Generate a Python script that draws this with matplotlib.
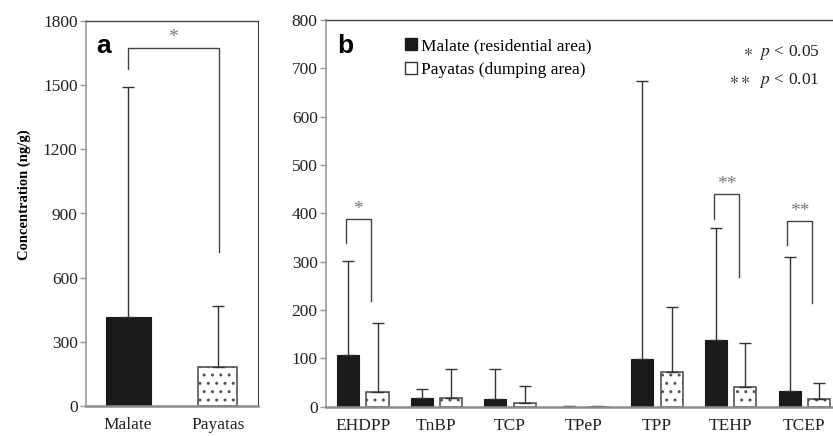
import matplotlib.pyplot as plt
from matplotlib.patches import Patch

plt.rcParams['font.family'] = ['Liberation Serif', 'DejaVu Serif']
plt.rcParams['mathtext.fontset'] = 'stix'
plt.rcParams['hatch.linewidth'] = 1.0

# panel a: total concentration
sites = ["Malate", "Payatas"]
total_mean = [417, 184]
total_upper = [1490, 469]
# (left leg end, top, right leg end)
total_bracket = (1574, 1674, 718)

# panel b: individual compounds
compounds = ["EHDPP", "TnBP", "TCP", "TPeP", "TPP", "TEHP", "TCEP"]
malate_mean = [107, 18, 16, 0.3, 98, 139, 32]
malate_upper = [302, 36, 79, 1, 673, 370, 309]
payatas_mean = [31, 18, 7, 0.3, 71, 41, 16]
payatas_upper = [173, 77, 43, 2, 207, 132, 48]

# significance brackets: compound index, left leg end, top, right leg end, label
sig_idx = [0, 5, 6]
sig_left = [339, 389, 334]
sig_top = [389, 440, 385]
sig_right = [218, 268, 214]
sig_label = ["*", "**", "**"]

black = "#1a1a1a"
edge_gray = "#555555"
spine_gray = "#999999"

fig = plt.figure(figsize=(8.33, 4.36), dpi=100)
ax_a = fig.add_axes([86 / 833, 30 / 436, 172 / 833, 385 / 436])
ax_b = fig.add_axes([326 / 833, 29.3 / 436, 507 / 833, 386.7 / 436])


def style_axis(ax):
    ax.spines['left'].set_color(spine_gray)
    ax.spines['left'].set_linewidth(1.2)
    ax.spines['bottom'].set_color("#8c8c8c")
    ax.spines['bottom'].set_linewidth(1.8)
    ax.spines['top'].set_color("#444444")
    ax.spines['top'].set_linewidth(1.0)
    ax.tick_params(axis='y', direction='out', length=4, width=1, color=spine_gray,
                   labelsize=12.5, labelcolor="#222222", pad=2)
    ax.tick_params(axis='x', length=0, labelsize=12.5, labelcolor="#222222", pad=8)


# ---- panel a ----
xa = list(range(len(sites)))
err_a = [[0, 0], [u - m for u, m in zip(total_upper, total_mean)]]
ax_a.bar(xa[0], total_mean[0], width=0.5, color=black, edgecolor=black, lw=0.8)
ax_a.bar(xa[1], total_mean[1], width=0.43, color="white", edgecolor=edge_gray,
         hatch="..", lw=1.2)
ax_a.errorbar(xa, total_mean, yerr=err_a, fmt='none', ecolor="#333333",
              elinewidth=1, capsize=4, capthick=1)
ax_a.set_xlim(-0.47, 1.45)
ax_a.set_ylim(0, 1800)
ax_a.set_yticks(range(0, 1801, 300))
ax_a.set_xticks(xa)
ax_a.set_xticklabels(sites)
style_axis(ax_a)
ax_a.spines['right'].set_color("#444444")
ax_a.set_ylabel("Concentration (ng/g)", fontsize=10.5, fontweight='bold')
ax_a.yaxis.set_label_coords(-0.32, 0.55)
l, t, r = total_bracket
ax_a.plot([0, 0, 1.01, 1.01], [l, t, t, r], color="#444444", lw=1)
ax_a.text(0.505, t + 10, "*", ha='center', va='bottom', fontsize=14, color="#777777")
ax_a.text(0.06, 0.965, "a", transform=ax_a.transAxes, ha='left', va='top',
          fontsize=19, fontweight='bold', family='Liberation Sans')

# ---- panel b ----
xb = list(range(len(compounds)))
off = 0.2
w = 0.3
xm = [x - off for x in xb]
xp = [x + off for x in xb]
ax_b.bar(xm, malate_mean, width=w, color=black, edgecolor=black, lw=0.8,
         label="Malate (residential area)")
ax_b.bar(xp, payatas_mean, width=w, color="white", edgecolor=edge_gray, hatch="..",
         lw=1.2, label="Payatas (dumping area)")
ax_b.errorbar(xm, malate_mean,
              yerr=[[0] * 7, [u - m for u, m in zip(malate_upper, malate_mean)]],
              fmt='none', ecolor="#333333", elinewidth=1, capsize=4, capthick=1)
ax_b.errorbar(xp, payatas_mean,
              yerr=[[0] * 7, [u - m for u, m in zip(payatas_upper, payatas_mean)]],
              fmt='none', ecolor="#333333", elinewidth=1, capsize=4, capthick=1)
ax_b.set_xlim(-0.5, 6.39)
ax_b.set_ylim(0, 800)
ax_b.set_yticks(range(0, 801, 100))
ax_b.set_xticks(xb)
ax_b.set_xticklabels(compounds)
style_axis(ax_b)
ax_b.spines['right'].set_visible(False)

for i, lo, top, ro, lab in zip(sig_idx, sig_left, sig_top, sig_right, sig_label):
    x0, x1 = i - 0.23, i + 0.11
    ax_b.plot([x0, x0, x1, x1], [lo, top, top, ro], color="#444444", lw=1)
    ax_b.text((x0 + x1) / 2, top + 2, lab, ha='center', va='bottom', fontsize=14,
              color="#777777")

handles = [Patch(facecolor=black, edgecolor=black),
           Patch(facecolor="white", edgecolor="#333333")]
ax_b.legend(handles, ["Malate (residential area)", "Payatas (dumping area)"],
            loc='upper left', bbox_to_anchor=(405 / 833, 1 - 38 / 436),
            bbox_transform=fig.transFigure, frameon=False, fontsize=12.5,
            handlelength=0.7, handleheight=0.7, handletextpad=0.2,
            labelspacing=0.45, borderpad=0, borderaxespad=0)

fig.text(820 / 833, 1 - 52 / 436, r"$\ast$  $p$ < 0.05", ha='right', va='center',
         fontsize=12.5, color="#222222")
fig.text(820 / 833, 1 - 80 / 436, r"$\ast\ast$  $p$ < 0.01", ha='right', va='center',
         fontsize=12.5, color="#222222")
ax_b.text(0.022, 0.965, "b", transform=ax_b.transAxes, ha='left', va='top',
          fontsize=19, fontweight='bold', family='Liberation Sans')

fig.savefig("out.png", dpi=100)
